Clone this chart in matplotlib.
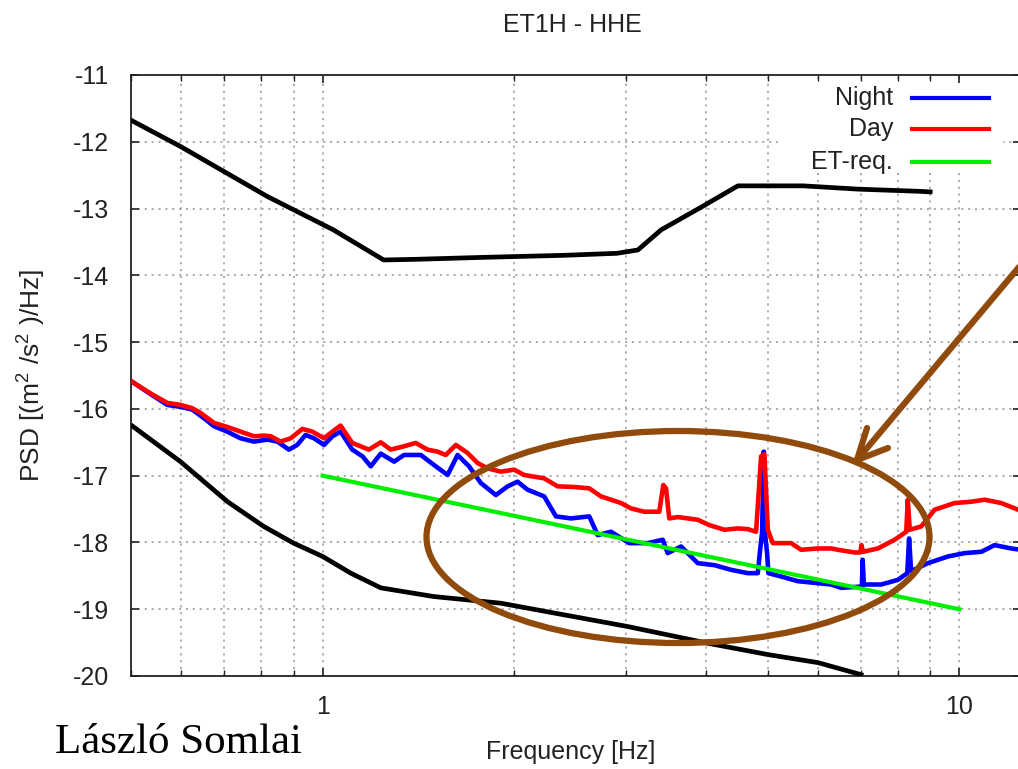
import matplotlib
matplotlib.use("Agg")
import matplotlib.pyplot as plt
from matplotlib.patches import Ellipse, Rectangle
from matplotlib.lines import Line2D
from matplotlib.ticker import LogLocator, FixedLocator, NullFormatter

plt.rcParams['font.family'] = ['Liberation Sans', 'DejaVu Sans']
plt.rcParams['mathtext.fontset'] = 'custom'
plt.rcParams['mathtext.rm'] = 'Liberation Sans'
plt.rcParams['mathtext.it'] = 'Liberation Sans'

# Peterson high / low noise models
nhnm_f = [0.503, 0.598, 0.819, 1.04, 1.247, 1.40, 1.80, 2.40, 2.90, 3.128, 3.40, 3.93, 4.49, 5.68, 6.96, 8.56, 9.0]
nhnm_psd = [-11.69, -12.07, -12.82, -13.32, -13.77, -13.76, -13.73, -13.70, -13.67, -13.62, -13.32, -12.98,
            -12.66, -12.66, -12.71, -12.74, -12.75]

nlnm_f = [0.503, 0.598, 0.709, 0.808, 0.900, 1.0, 1.107, 1.234, 1.494, 1.905, 3.017, 4.03, 5.01, 6.00, 7.01]
nlnm_psd = [-16.26, -16.79, -17.39, -17.76, -18.01, -18.21, -18.46, -18.68, -18.81, -18.91, -19.26, -19.51,
            -19.68, -19.80, -19.98]

# ET requirement
et_f = [1.0, 10.0]
et_psd = [-17.0, -19.0]

night_f = [0.503, 0.537, 0.570, 0.598, 0.624, 0.651, 0.675, 0.708, 0.743, 0.780, 0.819, 0.849, 0.885, 0.912,
           0.940, 0.969, 1.005, 1.036, 1.067, 1.113, 1.155, 1.190, 1.234, 1.295, 1.342, 1.426, 1.496, 1.571,
           1.629, 1.698, 1.772, 1.871, 1.952, 2.024, 2.098, 2.228, 2.325, 2.455, 2.623, 2.704, 2.837, 3.031,
           3.239, 3.421, 3.483, 3.656, 3.883, 4.124, 4.381, 4.653, 4.825, 4.86, 4.90, 4.93, 4.95, 4.99, 5.013,
           5.250, 5.577, 5.996, 6.291, 6.524, 7.03, 7.05, 7.08, 7.541, 8.010, 8.284, 8.34, 8.40, 8.928, 9.600,
           10.19, 10.83, 11.36, 12.07, 12.5]
night_psd = [-15.60, -15.78, -15.94, -15.97, -16.01, -16.14, -16.26, -16.34, -16.44, -16.49, -16.46, -16.49,
             -16.61, -16.54, -16.39, -16.44, -16.54, -16.41, -16.34, -16.61, -16.71, -16.86, -16.67, -16.79,
             -16.69, -16.69, -16.84, -16.99, -16.69, -16.86, -17.11, -17.29, -17.16, -17.09, -17.21, -17.31,
             -17.61, -17.64, -17.61, -17.89, -17.84, -18.01, -18.01, -17.96, -18.16, -18.06, -18.31, -18.34,
             -18.41, -18.46, -18.46, -18.16, -17.85, -16.64, -17.85, -18.16, -18.46, -18.51, -18.58, -18.61,
             -18.63, -18.68, -18.66, -18.26, -18.63, -18.63, -18.56, -18.46, -17.94, -18.43, -18.31, -18.21,
             -18.16, -18.14, -18.04, -18.09, -18.11]

day_f = [0.503, 0.537, 0.570, 0.598, 0.624, 0.643, 0.675, 0.708, 0.743, 0.780, 0.809, 0.829, 0.859, 0.891,
         0.929, 0.963, 1.005, 1.036, 1.067, 1.113, 1.182, 1.234, 1.279, 1.342, 1.400, 1.461, 1.515, 1.561,
         1.619, 1.689, 1.751, 1.815, 1.905, 1.999, 2.073, 2.228, 2.339, 2.485, 2.623, 2.736, 2.942, 3.050,
         3.200, 3.379, 3.428, 3.462, 3.503, 3.612, 3.883, 4.049, 4.276, 4.487, 4.653, 4.795, 4.883, 4.942,
         5.003, 5.094, 5.443, 5.644, 5.996, 6.291, 6.446, 6.845, 6.99, 7.02, 7.06, 7.451, 7.913, 8.254, 8.30,
         8.36, 8.715, 9.145, 9.831, 10.44, 10.96, 11.64, 12.37, 12.5]
day_psd = [-15.60, -15.77, -15.91, -15.94, -15.99, -16.06, -16.21, -16.27, -16.34, -16.41, -16.40, -16.41,
           -16.49, -16.44, -16.30, -16.34, -16.44, -16.34, -16.25, -16.51, -16.61, -16.50, -16.61, -16.56,
           -16.51, -16.61, -16.64, -16.69, -16.54, -16.66, -16.81, -16.89, -16.94, -16.91, -16.99, -17.04,
           -17.16, -17.17, -17.19, -17.31, -17.41, -17.49, -17.54, -17.54, -17.14, -17.19, -17.64, -17.62,
           -17.66, -17.74, -17.81, -17.79, -17.80, -17.84, -16.71, -16.68, -17.81, -18.01, -18.01, -18.11,
           -18.09, -18.09, -18.11, -18.15, -18.15, -18.04, -18.14, -18.09, -17.96, -17.84, -17.36, -17.81,
           -17.76, -17.51, -17.41, -17.39, -17.36, -17.41, -17.51, -17.53]

yticks = list(range(-20, -10))
xticks = [1, 10]
xtick_labels = ['1', '10']

W, H = 1018, 769
fig = plt.figure(figsize=(W / 100, H / 100), dpi=100)
ax = fig.add_axes([131 / W, 1 - 676 / H, 890 / W, 601 / H])
ax.set_xscale('log')
ax.set_xlim(0.5, 12.5)
ax.set_ylim(-20, -11)
ax.set_axisbelow(True)

txt = '#222222'
ax.xaxis.set_major_locator(FixedLocator(xticks))
ax.set_xticklabels(xtick_labels)
ax.xaxis.set_minor_locator(LogLocator(base=10, subs=[2, 3, 4, 5, 6, 7, 8, 9]))
ax.xaxis.set_minor_formatter(NullFormatter())
ax.set_yticks(yticks)
ax.set_yticklabels([str(v) for v in yticks])
ax.tick_params(which='both', direction='in', top=True, right=True, colors='#222222', labelcolor=txt,
               labelsize=18)
ax.tick_params(which='major', length=6, width=1.2)
ax.tick_params(which='minor', length=4, width=1.0)
ax.tick_params(axis='x', pad=14)
ax.tick_params(axis='y', pad=16)
for sp in ax.spines.values():
    sp.set_color('#222222')
    sp.set_linewidth(1.3)

grid_style = dict(color='#a8a8a8', linestyle=(0, (1.2, 2.6)), linewidth=1.3)
ax.grid(True, which='major', axis='y', **grid_style)
ax.grid(True, which='both', axis='x', **grid_style)

ax.plot(nhnm_f, nhnm_psd, color='black', lw=3.4, zorder=3)
ax.plot(nlnm_f, nlnm_psd, color='black', lw=3.4, zorder=3)
ax.plot(night_f, night_psd, color='#0000ff', lw=3.3, zorder=4)
ax.plot(et_f, et_psd, color='#00ee00', lw=3.0, zorder=4.5)
ax.plot(day_f, day_psd, color='#ff0000', lw=3.3, zorder=5)

# key box in gnuplot style: label right-aligned, sample line on the right
ax.add_patch(Rectangle((778 / W, 1 - 172 / H), 225 / W, 89 / H, transform=fig.transFigure,
                       facecolor='white', edgecolor='none', zorder=1))
keys = [('Night', '#0000ff', 98), ('Day', '#ff0000', 129), ('ET-req.', '#00ee00', 162)]
for label, col, yp in keys:
    fig.text(893 / W, 1 - yp / H, label, ha='right', va='center', fontsize=18, color=txt)
    fig.add_artist(Line2D([912 / W, 989 / W], [1 - yp / H, 1 - yp / H], color=col, lw=3.0,
                          transform=fig.transFigure))

fig.text(572 / W, 1 - 25 / H, 'ET1H - HHE', ha='center', va='center', fontsize=18, color=txt)
fig.text(571 / W, 1 - 752 / H, 'Frequency [Hz]', ha='center', va='center', fontsize=18, color=txt)
fig.text(32 / W, 1 - 375 / H, r'PSD [(m$^{2}$ /s$^{2}$ )/Hz]', ha='center', va='center', rotation=90,
         fontsize=19, color=txt)
fig.text(55 / W, 1 - 753 / H, 'László Somlai', ha='left', va='baseline', fontsize=31,
         family=['Liberation Serif', 'DejaVu Serif'], color='black')

# highlighted region and pointer arrow
brown = '#8f4a0c'
fig.add_artist(Ellipse((678 / W, 1 - 537 / H), 503 / W, 212 / H, transform=fig.transFigure,
                       fill=False, edgecolor=brown, lw=4.5, zorder=10))
tip = (857 / W, 1 - 460 / H)
for end in [(1035 / W, 1 - 248 / H), (867 / W, 1 - 428 / H), (888 / W, 1 - 448 / H)]:
    fig.add_artist(Line2D([tip[0], end[0]], [tip[1], end[1]], color=brown, lw=4.5,
                          solid_capstyle='round', transform=fig.transFigure, zorder=10))

fig.savefig('out.png', dpi=100)
